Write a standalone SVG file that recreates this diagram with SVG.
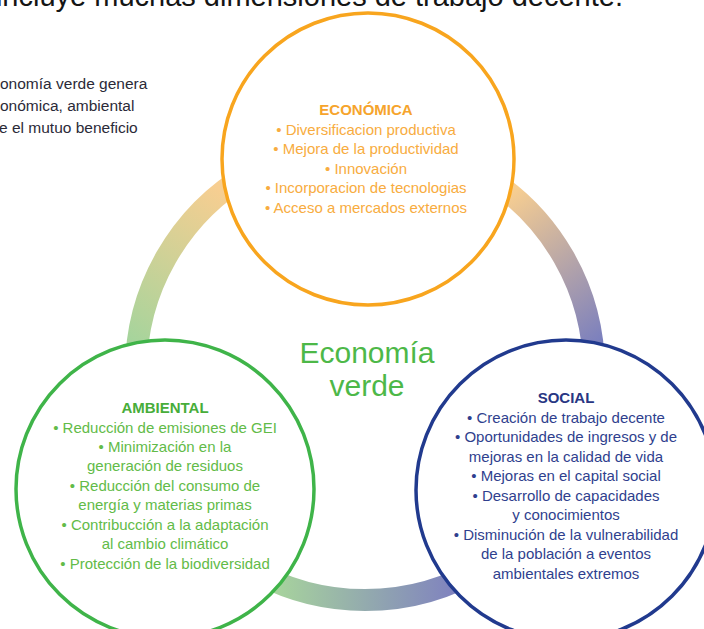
<svg xmlns="http://www.w3.org/2000/svg" width="704" height="629" viewBox="0 0 704 629">
<style>
text{font-family:"Liberation Sans",Arial,Helvetica,sans-serif}
.body{font-size:15px;text-anchor:middle}
.hd{font-size:15px;font-weight:bold;text-anchor:middle}
.eco{fill:#f8ac40}
.ecoh{fill:#f6a42c}
.amb{fill:#62bb48}
.ambh{fill:#47ad3a}
.soc{fill:#2f3f8e}
.soch{fill:#283683}
.side{font-size:15.5px;fill:#2b2a38}
.ring{fill:none;stroke-width:22}
.node{fill:#fff;stroke-width:3.5}
</style>
<defs>
<linearGradient id="gL" gradientUnits="userSpaceOnUse" x1="238" y1="202" x2="138" y2="345">
<stop offset="0" stop-color="#f7ce91"/><stop offset="1" stop-color="#a6d49c"/>
</linearGradient>
<linearGradient id="gR" gradientUnits="userSpaceOnUse" x1="496" y1="202" x2="597" y2="345">
<stop offset="0" stop-color="#f7ce91"/><stop offset="1" stop-color="#7a7fbe"/>
</linearGradient>
<linearGradient id="gB" gradientUnits="userSpaceOnUse" x1="272" y1="595" x2="462" y2="595">
<stop offset="0" stop-color="#a8d59c"/><stop offset="1" stop-color="#7e7fc0"/>
</linearGradient>
</defs>
<rect width="704" height="629" fill="#fff"/>
<text x="623" y="6" font-size="29" fill="#151515" text-anchor="end">incluye muchas dimensiones de trabajo decente.</text>
<g id="intro">
<text class="side" x="0" y="89">onomía verde genera</text>
<text class="side" x="0" y="111">onómica, ambiental</text>
<text class="side" x="-1" y="133">e el mutuo beneficio</text>
</g>
<g id="connectors">
<path class="ring" stroke="url(#gR)" d="M365,142 A229,229 0 0 1 562.1,487.6"/>
<path class="ring" stroke="url(#gB)" d="M562.1,487.6 A229,229 0 0 1 167.9,487.6"/>
<path class="ring" stroke="url(#gL)" d="M167.9,487.6 A229,229 0 0 1 365,142"/>
</g>
<g id="economica">
<circle class="node" cx="368" cy="159" r="146" stroke="#f8a51e"/>
<text class="hd ecoh" x="366" y="115">ECONÓMICA</text>
<text class="body eco" x="366" y="135">• Diversificacion productiva</text>
<text class="body eco" x="366" y="154">• Mejora de la productividad</text>
<text class="body eco" x="366" y="174">• Innovación</text>
<text class="body eco" x="366" y="193">• Incorporacion de tecnologias</text>
<text class="body eco" x="366" y="213">• Acceso a mercados externos</text>
</g>
<g id="ambiental">
<circle class="node" cx="165" cy="489" r="149" stroke="#3fb449"/>
<text class="hd ambh" x="165" y="413">AMBIENTAL</text>
<text class="body amb" x="165" y="433">• Reducción de emisiones de GEI</text>
<text class="body amb" x="165" y="452">• Minimización en la</text>
<text class="body amb" x="165" y="471">generación de residuos</text>
<text class="body amb" x="165" y="491">• Reducción del consumo de</text>
<text class="body amb" x="165" y="510">energía y materias primas</text>
<text class="body amb" x="165" y="530">• Contribucción a la adaptación</text>
<text class="body amb" x="165" y="549">al cambio climático</text>
<text class="body amb" x="165" y="569">• Protección de la biodiversidad</text>
</g>
<g id="social">
<circle class="node" cx="566" cy="490" r="150" stroke="#213a8e"/>
<text class="hd soch" x="566" y="403">SOCIAL</text>
<text class="body soc" x="566" y="423">• Creación de trabajo decente</text>
<text class="body soc" x="566" y="442">• Oportunidades de ingresos y de</text>
<text class="body soc" x="566" y="462">mejoras en la calidad de vida</text>
<text class="body soc" x="566" y="481">• Mejoras en el capital social</text>
<text class="body soc" x="566" y="501">• Desarrollo de capacidades</text>
<text class="body soc" x="566" y="520">y conocimientos</text>
<text class="body soc" x="566" y="540">• Disminución de la vulnerabilidad</text>
<text class="body soc" x="566" y="559">de la población a eventos</text>
<text class="body soc" x="566" y="579">ambientales extremos</text>
</g>
<g id="center">
<text x="367" y="363" font-size="30" fill="#4db848" text-anchor="middle">Economía</text>
<text x="367" y="396" font-size="30" fill="#4db848" text-anchor="middle">verde</text>
</g>
</svg>
